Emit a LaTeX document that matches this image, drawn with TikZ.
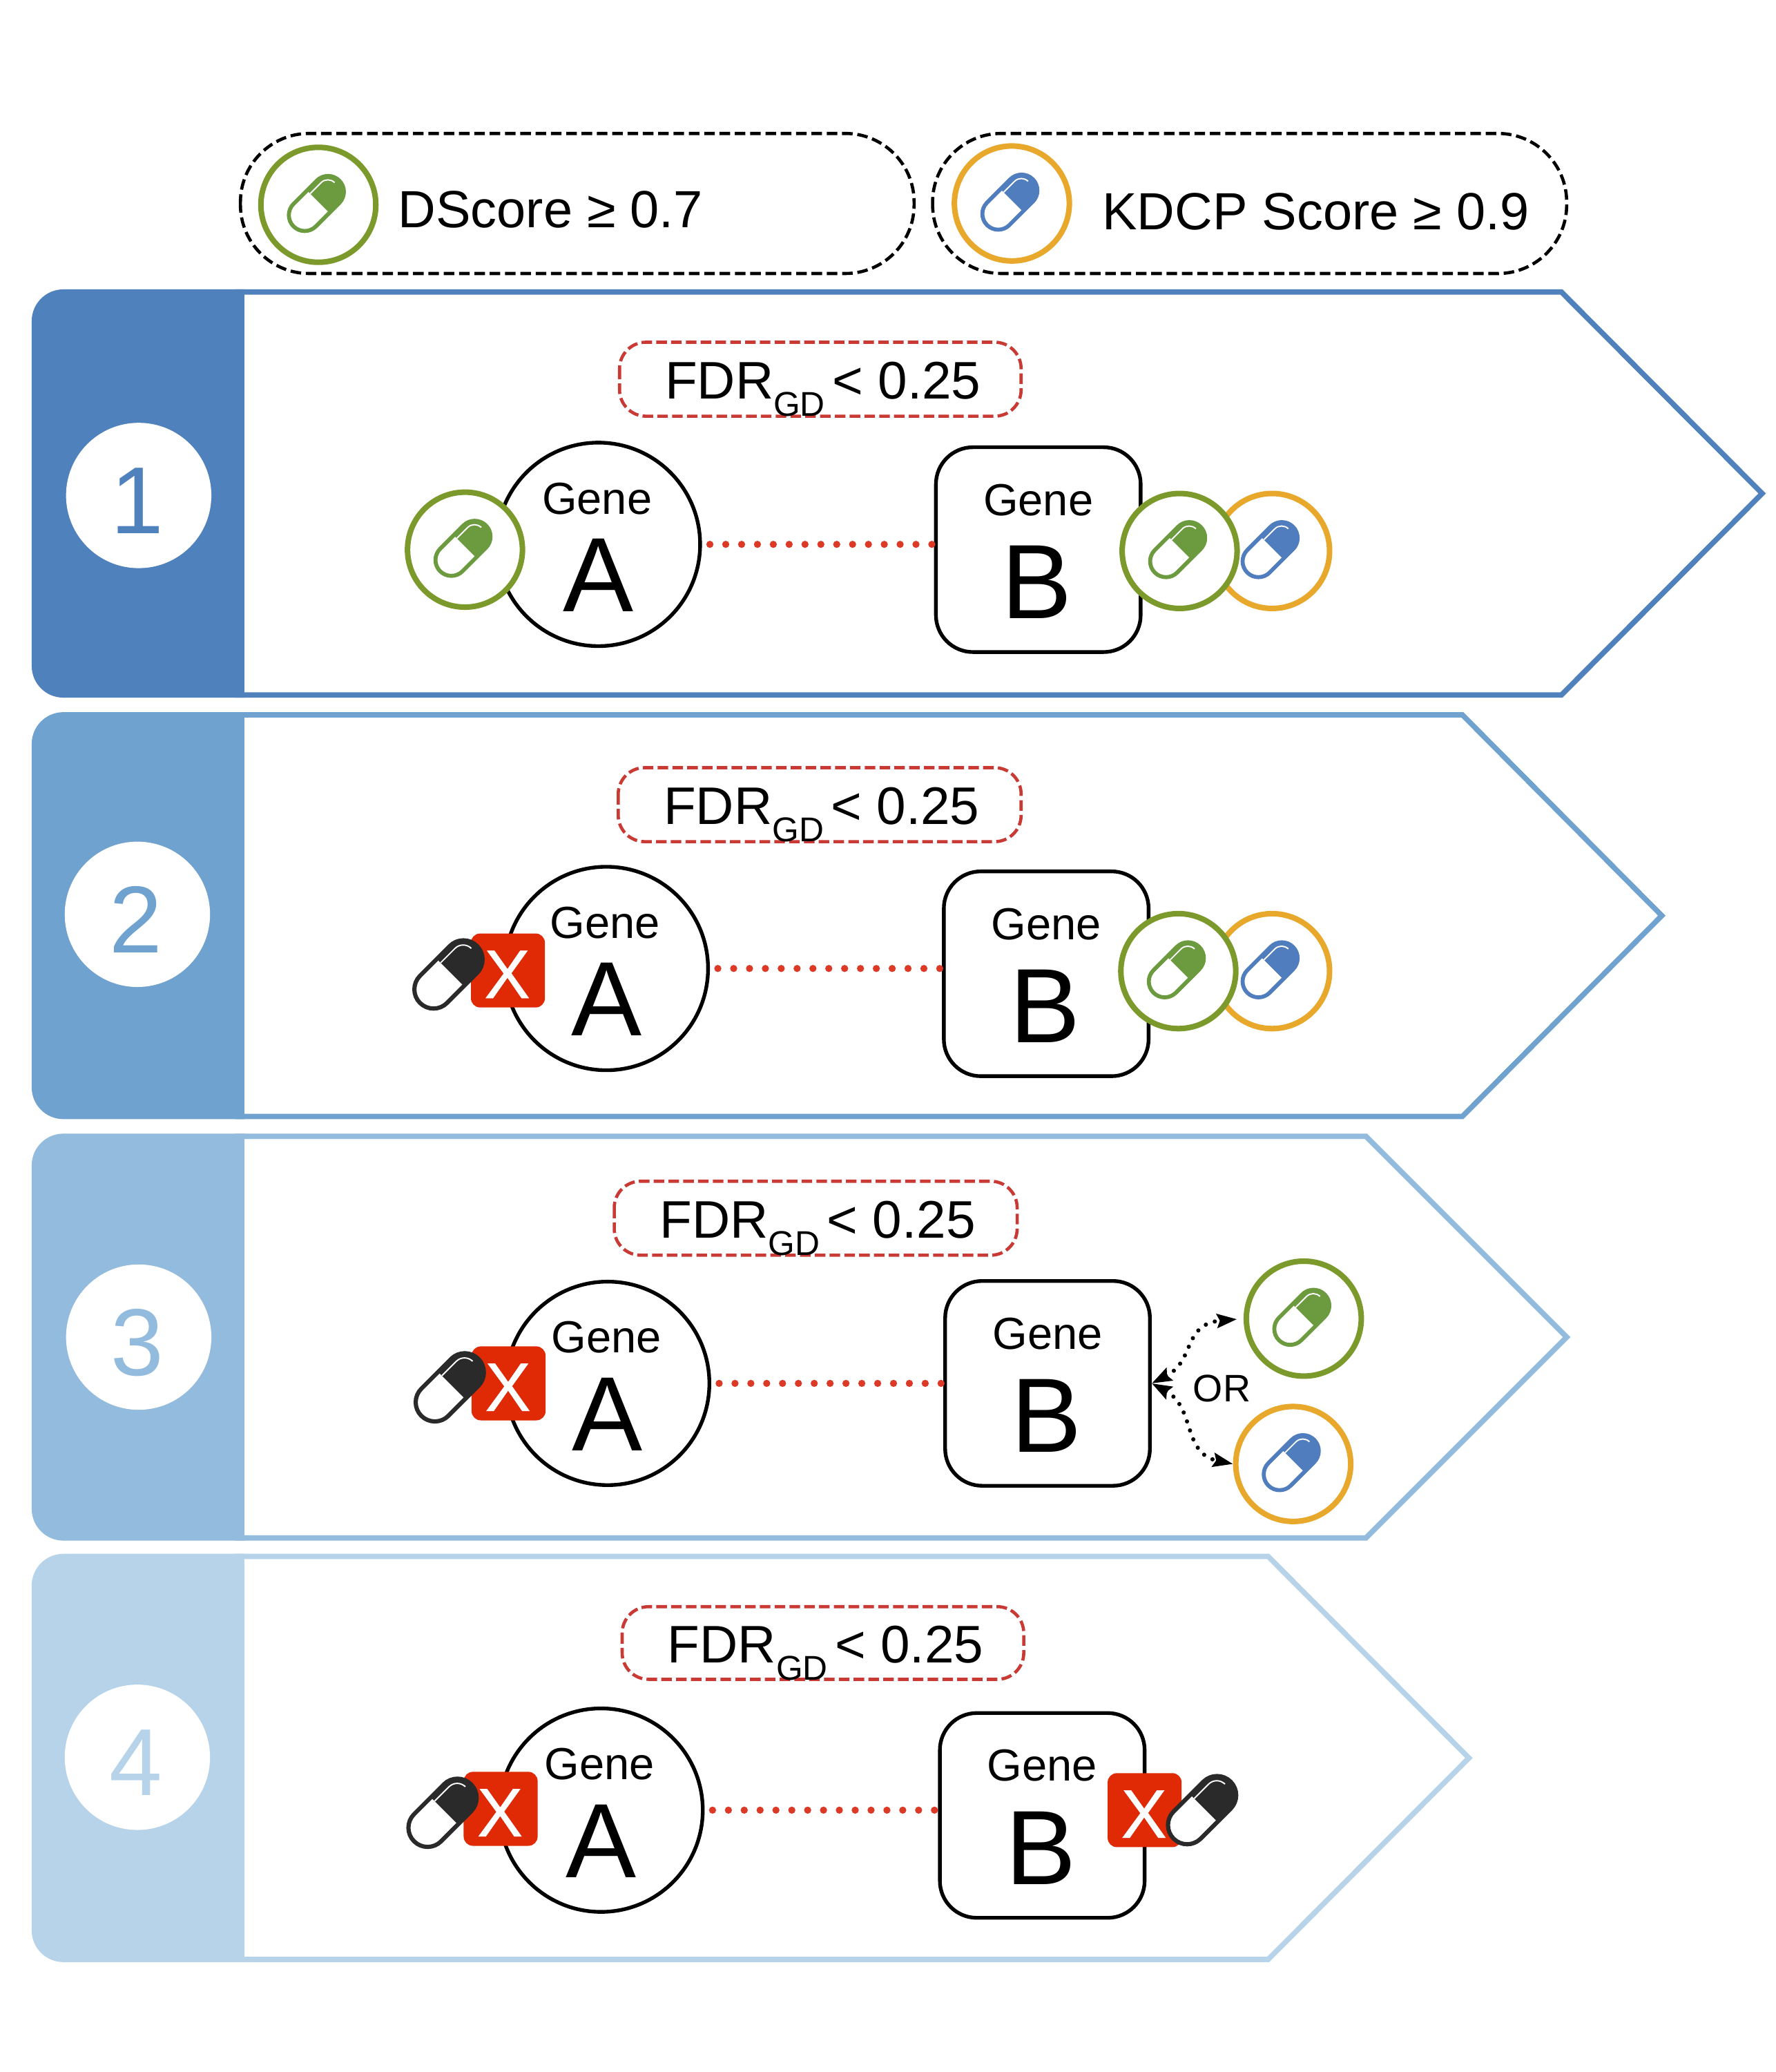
\documentclass[tikz,border=0pt]{standalone}
\usepackage{fontspec}
\setmainfont{Liberation Sans}
\usetikzlibrary{arrows.meta}
\definecolor{pa}{HTML}{4F81BD}
\definecolor{pb}{HTML}{6FA2CF}
\definecolor{pc}{HTML}{92BBDD}
\definecolor{pd}{HTML}{B7D3E9}
\definecolor{ringgreen}{HTML}{7B9A2B}
\definecolor{ringorange}{HTML}{E8A82C}
\definecolor{pillgreen}{HTML}{6C9A3E}
\definecolor{pillblue}{HTML}{4F7DBD}
\definecolor{pillblack}{HTML}{2A2A2A}
\definecolor{xred}{HTML}{E02A06}
\definecolor{fdrred}{HTML}{C93A35}
\definecolor{dotred}{HTML}{DC3A26}
\tikzset{
  legendbox/.style={draw=black,line width=1.2pt,dash pattern=on 4pt off 1.8pt,rounded corners=26pt},
  fdrbox/.style={draw=fdrred,line width=1.2pt,dash pattern=on 4pt off 1.6pt,rounded corners=10pt},
  txt/.style={inner sep=0pt,font=\fontsize{19.8}{24}\selectfont,text=black},
  fdrtxt/.style={inner sep=0pt,font=\fontsize{20}{24}\selectfont,text=black},
  genelabel/.style={inner sep=0pt,anchor=base,font=\fontsize{17}{20}\selectfont,text=black},
  geneletter/.style={inner sep=0pt,anchor=base,font=\fontsize{40}{44}\selectfont,text=black},
  genecircle/.style={circle,draw=black,fill=white,line width=1.4pt,inner sep=0pt,minimum size=77pt},
  genebox/.style={rectangle,draw=black,fill=white,line width=1.4pt,inner sep=0pt,minimum size=77.5pt,rounded corners=14pt},
  genelink/.style={draw=dotred,line width=2.7pt,line cap=round,dash pattern=on 0pt off 6pt,shorten <=3pt,shorten >=0pt},
  drugring/.style={circle,fill=white,line width=2.1pt,inner sep=0pt,minimum size=43.5pt},
  xbox/.style={rectangle,fill=xred,rounded corners=3.5pt,inner sep=0pt,minimum size=28pt},
  xmark/.style={inner sep=0pt,text=white,font=\fontsize{26}{28}\selectfont\addfontfeature{FakeBold=0.6}},
  numdisc/.style={circle,fill=white,inner sep=0pt,minimum size=55pt},
  orlink/.style={draw=black,line width=1.6pt,line cap=round,dash pattern=on 0pt off 3.6pt,{Stealth[length=7.5pt,width=5.2pt,inset=1pt]}-{Stealth[length=7.5pt,width=5.2pt,inset=1pt]}},
}
% pill: x y half-length radius colour linewidth
\newcommand{\pillicon}[6]{%
  \begin{scope}[shift={(#1,#2)},rotate=45]
    \fill[white,rounded corners=#4*0.5pt] (-#3,-#4) rectangle (#3,#4);
    \begin{scope}
      \clip[rounded corners=#4*0.5pt] (-#3,-#4) rectangle (#3,#4);
      \fill[#5] (2,-#4) rectangle (#3,#4);
    \end{scope}
    \draw[white,line width=.5pt,rounded corners=#4*0.3pt] (2,-#4*0.72) -- (#3-#4*0.3,-#4*0.72) -- (#3-#4*0.3,-#4*0.2);
    \draw[#5,line width=#6,rounded corners=#4*0.5pt] (-#3,-#4) rectangle (#3,#4);
  \end{scope}}
% panel: y-top y-bottom x-shoulder x-tip colour
\newcommand{\panel}[5]{%
  \pgfmathsetmacro{\midy}{(#1+#2)/2}
  \draw[#5,line width=2pt,fill=white] (180,#1) -- (#3,#1) -- (#4,\midy) -- (#3,#2) -- (180,#2) -- cycle;
  \fill[#5] (185,#1-2) [rounded corners=12pt] -- (24,#1-2) -- (24,#2+2) [sharp corners] -- (185,#2+2) -- cycle;}
\newcommand{\numbadge}[5]{%
  \node[numdisc] (#1) at (#2,#3) {};
  \node[inner sep=0pt,anchor=base,text=#5,font=\fontsize{36}{40}\selectfont] (#1t) at (#2-1,#3+29) {#4};}
\newcommand{\fdr}[6]{%
  \draw[fdrbox] (#2,#4) rectangle (#3,#5);
  \node[fdrtxt,anchor=base west] (#1) at (#2+34,{(#4+#5)/2+15}) {FDR\raisebox{-.32em}{\fontsize{13}{13}\selectfont GD}\hspace{.14em}< 0.25};}
\newcommand{\genea}[3]{%
  \node[genecircle] (#1) at (#2,#3) {};
  \node[genelabel] (#1g) at (#2-1,#3-23) {Gene};
  \node[geneletter] (#1l) at (#2,#3+51) {A};}
\newcommand{\geneb}[3]{%
  \node[genebox] (#1) at (#2,#3) {};
  \node[genelabel] (#1g) at (#2,#3-26) {Gene};
  \node[geneletter] (#1l) at (#2-1,#3+52) {B};}
\newcommand{\drug}[5]{%
  \node[drugring,draw=#4] (#1) at (#2,#3) {};
  \pillicon{#2-1.5}{#3-1}{24.5}{12}{#5}{1.5pt}}
\newcommand{\blocked}[5]{%
  \node[xbox] (#1) at (#2,#3) {};
  \node[xmark] (#1m) at (#2-.5,#3+3) {X};
  \pillicon{#4}{#5}{30.5}{14.5}{pillblack}{1.6pt}}
\begin{document}
\begin{tikzpicture}[x=0.5pt,y=-0.5pt]
\useasboundingbox (0,0) rectangle (1344,1568.2);
\fill[white] (0,0) rectangle (1344,1568.2);
% legend
\draw[legendbox] (182,101) rectangle (692,207);
\draw[legendbox] (706,101) rectangle (1186,207);
\drug{lg}{241}{155}{ringgreen}{pillgreen}
\drug{lo}{766}{154}{ringorange}{pillblue}
\node[txt,anchor=base west] (lt1) at (301,172) {DScore ≥ 0.7};
\node[txt,anchor=base west] (lt2) at (834,174) {KDCP Score ≥ 0.9};
% panels
\panel{221}{526}{1182}{1334}{pa}
\panel{541}{845}{1107}{1258}{pb}
\panel{860}{1164}{1034}{1186}{pc}
\panel{1178}{1483}{960}{1112}{pd}
\numbadge{n1}{105}{375}{1}{pa}
\numbadge{n2}{104}{692}{2}{pb}
\numbadge{n3}{105}{1012}{3}{pc}
\numbadge{n4}{104}{1330}{4}{pd}
% panel 1
\fdr{f1}{469}{773}{259}{315}{}
\genea{a1}{453}{412}
\geneb{b1}{786}{416}
\draw[genelink] (a1.east) -- (a1.east -| b1.west);
\drug{d1}{352}{416}{ringgreen}{pillgreen}
\drug{o1}{963}{417}{ringorange}{pillblue}
\drug{g1}{893}{417}{ringgreen}{pillgreen}
% panel 2
\fdr{f2}{468}{773}{581}{637}{}
\genea{a2}{459}{733}
\geneb{b2}{792}{737}
\draw[genelink] (a2.east) -- (a2.east -| b2.west);
\blocked{x2}{384.5}{734.5}{339.5}{737.5}
\drug{o2}{963}{735}{ringorange}{pillblue}
\drug{g2}{892}{735}{ringgreen}{pillgreen}
% panel 3
\fdr{f3}{465}{770}{894}{950}{}
\genea{a3}{460}{1047}
\geneb{b3}{793}{1047}
\draw[genelink] (a3.east) -- (a3.east -| b3.west);
\blocked{x3}{385}{1047}{340.5}{1050}
\drug{g3}{987}{998}{ringgreen}{pillgreen}
\drug{o3}{979}{1108}{ringorange}{pillblue}
\node[inner sep=0pt,font=\fontsize{14.5}{16}\selectfont] (or3) at (925,1051) {OR};
\draw[orlink,shorten >=2.5pt] (b3.east) .. controls (905,1030) and (895,1002) .. (g3.west);
\draw[orlink,shorten >=0pt] (b3.east) .. controls (905,1065) and (895,1100) .. (o3.west);
% panel 4
\fdr{f4}{471}{775}{1216}{1271}{}
\genea{a4}{455}{1370}
\geneb{b4}{789}{1374}
\draw[genelink] (a4.east) -- (a4.east -| b4.west);
\blocked{x4}{379}{1369}{335}{1372}
\blocked{y4}{866.5}{1370}{910}{1370}
\end{tikzpicture}
\end{document}
